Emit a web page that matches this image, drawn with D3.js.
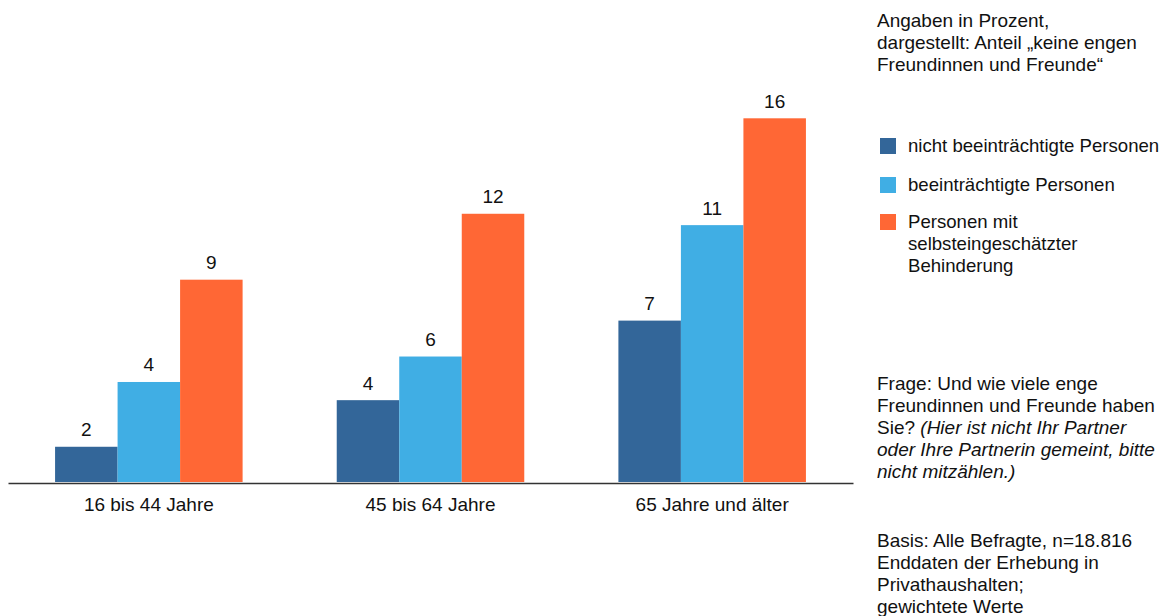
<!DOCTYPE html>
<html>
<head>
<meta charset="utf-8">
<script src="https://cdn.jsdelivr.net/npm/d3@7"></script>
<style>
  html, body { margin: 0; padding: 0; background: #fff; }
  svg { display: block; font-family: "Liberation Sans", Arial, sans-serif; }
</style>
</head>
<body>
<svg id="chart" width="1168" height="616"></svg>
<script>
const categories = ["16 bis 44 Jahre", "45 bis 64 Jahre", "65 Jahre und älter"];
const seriesNames = ["nicht beeinträchtigte Personen", "beeinträchtigte Personen", "Personen mit selbsteingeschätzter Behinderung"];
const seriesColors = ["#336699", "#40AEE4", "#FF6735"];
const valuesNicht = [1.55, 3.6, 7.1];
const valuesBeein = [4.4, 5.52, 11.3];
const valuesSelbst = [8.9, 11.8, 16.0];
const legendLines = [["nicht beeinträchtigte Personen"], ["beeinträchtigte Personen"], ["Personen mit", "selbsteingeschätzter", "Behinderung"]];
const noteTop = ["Angaben in Prozent,", "dargestellt: Anteil „keine engen", "Freundinnen und Freunde“"];
const noteBasis = ["Basis: Alle Befragte, n=18.816", "Enddaten der Erhebung in", "Privathaushalten;", "gewichtete Werte"];

const series = [valuesNicht, valuesBeein, valuesSelbst];
const svg = d3.select("#chart");
const fs = 19;

const x0 = d3.scaleBand().domain(categories).range([8, 853]).paddingInner(0).paddingOuter(0);
const x1 = d3.scaleBand().domain(d3.range(series.length)).range([0, x0.bandwidth()]).paddingInner(0).paddingOuter(0.753);
const y = d3.scaleLinear().domain([0, 16]).range([482, 118.3]);

const groups = svg.append("g").selectAll("g").data(categories).join("g")
  .attr("transform", d => `translate(${x0(d)},0)`);

groups.each(function(cat, ci) {
  const g = d3.select(this);
  series.forEach((vals, si) => {
    const v = vals[ci];
    g.append("rect")
      .attr("x", x1(si)).attr("width", x1.bandwidth())
      .attr("y", y(v)).attr("height", y(0) - y(v))
      .attr("fill", seriesColors[si]);
    g.append("text")
      .attr("x", x1(si) + x1.bandwidth() / 2)
      .attr("y", y(v) - 10.5)
      .attr("text-anchor", "middle")
      .attr("font-size", fs).attr("fill", "#111")
      .text(d3.format(".0f")(v));
  });
});

const xAxis = svg.append("g").attr("transform", `translate(0,${y(0) + 1})`)
  .call(d3.axisBottom(x0).tickSize(0).tickPadding(15));
xAxis.select(".domain").attr("stroke", "#333").attr("stroke-width", 1.5);
xAxis.selectAll("text").attr("font-size", fs).attr("fill", "#111")
  .attr("font-family", "Liberation Sans, Arial, sans-serif");

const rx = 877;
function block(lines, y0) {
  lines.forEach((l, i) => {
    svg.append("text").attr("x", rx).attr("y", y0 + i * 22)
      .attr("font-size", fs).attr("fill", "#111").text(l);
  });
}
block(noteTop, 27);

// legend
const legY = [152, 191, 228];
legendLines.forEach((lines, i) => {
  svg.append("rect").attr("x", 880).attr("y", legY[i] - 14).attr("width", 16).attr("height", 16)
    .attr("fill", seriesColors[i]);
  lines.forEach((l, j) => {
    svg.append("text").attr("x", 908).attr("y", legY[i] + j * 22)
      .attr("font-size", 18.6).attr("fill", "#111").text(l);
  });
});

// question block
const q = [
  [{t: "Frage: Und wie viele enge", i: false}],
  [{t: "Freundinnen und Freunde haben", i: false}],
  [{t: "Sie? ", i: false}, {t: "(Hier ist nicht Ihr Partner", i: true}],
  [{t: "oder Ihre Partnerin gemeint, bitte", i: true}],
  [{t: "nicht mitzählen.)", i: true}]
];
q.forEach((parts, k) => {
  const t = svg.append("text").attr("x", rx).attr("y", 390 + k * 22)
    .attr("font-size", fs).attr("fill", "#111").attr("xml:space", "preserve");
  parts.forEach(p => t.append("tspan").attr("font-style", p.i ? "italic" : "normal").text(p.t));
});

block(noteBasis, 547);
</script>
</body>
</html>
